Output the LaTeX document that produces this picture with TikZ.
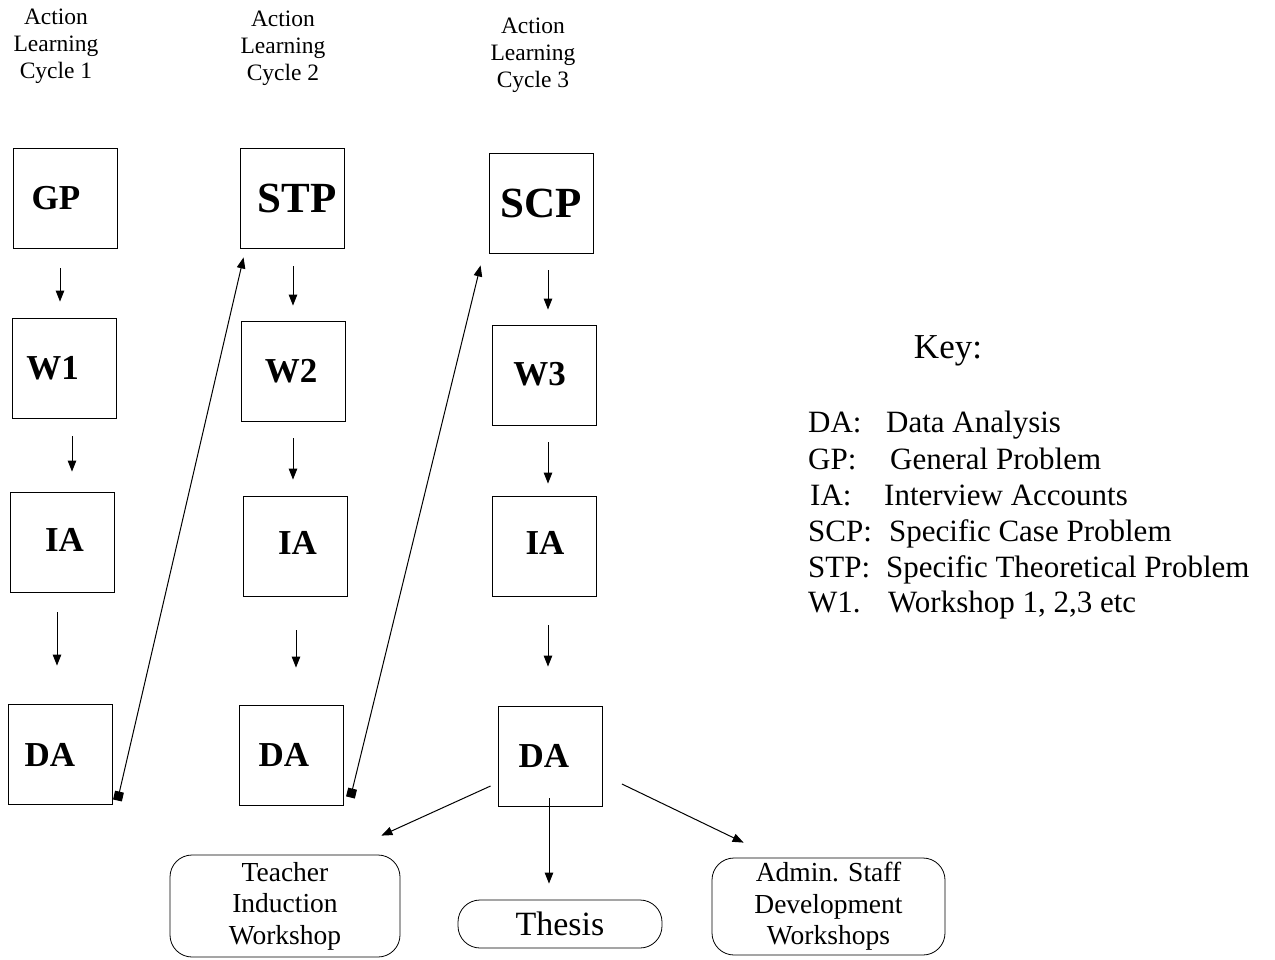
\documentclass[tikz,border=0pt]{standalone}
\usepackage{fontspec}
\setmainfont{Liberation Serif}
\usetikzlibrary{arrows.meta}

% label set off-centre inside its box: horizontal kern, vertical raise
\newcommand{\offlabel}[3]{\raisebox{#2}{\kern#1\relax#3}}

\begin{document}
\begin{tikzpicture}[x=1pt,y=-1pt,
  stage/.style={draw, line width=0.9pt, minimum width=104pt, minimum height=100pt,
    inner sep=0pt, font=\fontsize{35}{40}\selectfont\bfseries},
  bigstage/.style={stage, font=\fontsize{43}{48}\selectfont\bfseries},
  cyclehead/.style={align=center, inner sep=0pt, font=\fontsize{23.5}{27}\selectfont},
  outcome/.style={draw, line width=0.8pt, rounded corners=22pt, inner sep=0pt,
    align=center, font=\fontsize{27.5}{31.5}\selectfont},
  keyitem/.style={anchor=base west, inner sep=0pt, font=\fontsize{31}{36}\selectfont},
  flow/.style={line width=1pt, -{Triangle[length=11pt,width=8.5pt]}},
  feedback/.style={line width=1pt, {Square[length=9pt,width=9pt]}-{Triangle[length=11pt,width=8.5pt]}}
]
\useasboundingbox (0,0) rectangle (1275,959);

% column headings
\node[cyclehead] (h1) at (56,46) {Action\\Learning\\Cycle 1};
\node[cyclehead] (h2) at (283,48) {Action\\Learning\\Cycle 2};
\node[cyclehead] (h3) at (533,55) {Action\\Learning\\Cycle 3};

% cycle 1
\node[stage] (gp)  at (65,198.5) {\offlabel{-18pt}{2pt}{GP}};
\node[stage] (w1)  at (64.5,368) {\offlabel{-24pt}{0pt}{W1}};
\node[stage] (ia1) at (62.5,542.5) {\offlabel{4pt}{5pt}{IA}};
\node[stage] (da1) at (60,754.5) {\offlabel{-20pt}{0pt}{DA}};

% cycle 2
\node[bigstage] (stp) at (292.5,198) {\offlabel{9pt}{0pt}{STP}};
\node[stage] (w2)  at (293.5,371) {\offlabel{-5pt}{1pt}{W2}};
\node[stage] (ia2) at (295.5,546.5) {\offlabel{4pt}{7pt}{IA}};
\node[stage] (da2) at (291,755) {\offlabel{-14pt}{0pt}{DA}};

% cycle 3
\node[bigstage] (scp) at (541,203) {SCP};
\node[stage] (w3)  at (544,375.5) {\offlabel{-9pt}{4pt}{W3}};
\node[stage] (ia3) at (544,546.5) {\offlabel{2pt}{7pt}{IA}};
\node[stage] (da3) at (550.5,756.5) {\offlabel{-13pt}{2pt}{DA}};

% outcomes
\node[outcome, minimum width=230pt, minimum height=102pt] (tiw) at (285,906)
  {Teacher\\Induction\\Workshop};
\node[outcome, minimum width=204pt, minimum height=48pt,
  font=\fontsize{34}{38}\selectfont] (thesis) at (560,924) {Thesis};
\node[outcome, minimum width=233pt, minimum height=97pt] (asd) at (828.5,906.5)
  {Admin. Staff\\Development\\Workshops};

% steps within each cycle
\draw[flow] ([xshift=-5pt,yshift=-19.5pt]gp.south) -- ([xshift=-4.5pt,yshift=16pt]w1.north);
\draw[flow] ([xshift=7.5pt,yshift=-18pt]w1.south) -- ([xshift=9.5pt,yshift=20.5pt]ia1.north);
\draw[flow] ([xshift=-5.5pt,yshift=-19.5pt]ia1.south) -- ([xshift=-3pt,yshift=38.5pt]da1.north);

\draw[flow] ([xshift=0.5pt,yshift=-18pt]stp.south) -- ([xshift=-0.5pt,yshift=15pt]w2.north);
\draw[flow] ([xshift=-0.5pt,yshift=-17pt]w2.south) -- ([xshift=-2.5pt,yshift=16.5pt]ia2.north);
\draw[flow] ([xshift=0.5pt,yshift=-33.5pt]ia2.south) -- ([xshift=5pt,yshift=37pt]da2.north);

\draw[flow] ([xshift=7pt,yshift=-17pt]scp.south) -- ([xshift=4pt,yshift=15.5pt]w3.north);
\draw[flow] ([xshift=4pt,yshift=-16.5pt]w3.south) -- ([xshift=4pt,yshift=12.5pt]ia3.north);
\draw[flow] ([xshift=4pt,yshift=-28.5pt]ia3.south) -- ([xshift=-2.5pt,yshift=39.5pt]da3.north);

% feedback from one cycle into the next
\draw[feedback] ([xshift=5pt,yshift=4.5pt]da1.south east) -- ([xshift=3.5pt,yshift=-9pt]stp.south west);
\draw[feedback] ([xshift=7pt,yshift=8pt]da2.south east) -- ([xshift=-8pt,yshift=-12pt]scp.south west);

% final analysis feeding the outcomes
\draw[flow] ([xshift=-7.5pt,yshift=-29.5pt]da3.west) -- ([xshift=-19pt,yshift=19pt]tiw.north east);
\draw[flow] ([xshift=-1.5pt,yshift=8.5pt]da3.south) -- ([xshift=-11pt,yshift=16pt]thesis.north);
\draw[flow] ([xshift=19pt,yshift=-27.5pt]da3.east) -- ([xshift=32pt,yshift=15pt]asd.north west);

% key
\node[font=\fontsize{35}{40}\selectfont, inner sep=0pt] (keyhead) at (948,351) {Key:};
\node[keyitem] (k1a) at (808,432) {DA:};
\node[keyitem] (k1b) at (886,432) {Data Analysis};
\node[keyitem] (k2a) at (808,469) {GP:};
\node[keyitem] (k2b) at (890,469) {General Problem};
\node[keyitem] (k3a) at (810,505) {IA:};
\node[keyitem] (k3b) at (884,505) {Interview Accounts};
\node[keyitem] (k4a) at (808,541) {SCP:};
\node[keyitem] (k4b) at (889,541) {Specific Case Problem};
\node[keyitem] (k5a) at (808,577) {STP:};
\node[keyitem] (k5b) at (886,577) {Specific Theoretical Problem};
\node[keyitem] (k6a) at (808,612) {W1.};
\node[keyitem] (k6b) at (888,612) {Workshop 1, 2,3 etc};
\end{tikzpicture}
\end{document}
